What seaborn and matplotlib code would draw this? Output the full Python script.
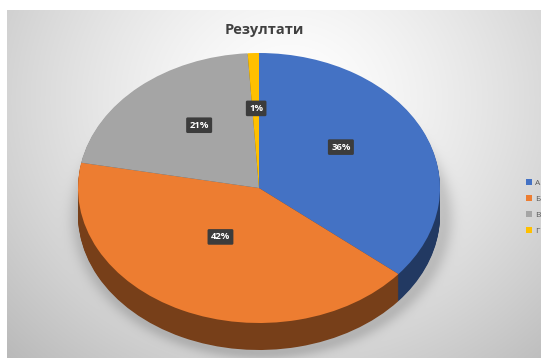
import numpy as np
import matplotlib
matplotlib.use("Agg")
import matplotlib.pyplot as plt
from matplotlib.patches import Patch
import seaborn as sns

# Survey results
categories = ["А", "Б", "В", "Г"]
shares = [36, 42, 21, 1]
value_labels = ["36%", "42%", "21%", "1%"]
title = "Резултати"

sns.set_theme(style="white")
plt.rcParams["font.family"] = ["Open Sans", "DejaVu Sans"]

top_colors = sns.color_palette(["#4472C4", "#ED7D31", "#A5A5A5", "#FFC000"])
side_colors = [tuple(c * 0.5 for c in col) for col in top_colors]

W, H = 541, 358
fig = plt.figure(figsize=(W / 100, H / 100), dpi=100)
fig.patch.set_facecolor("white")

# pie geometry in pixels
cx, cy, rx, ry, depth = 259, 188, 181, 135, 27

# chart area: soft radial gradient with a shadow under the pie
bg_ax = fig.add_axes([0, 0, 1, 1])
bg_ax.set_xlim(0, W)
bg_ax.set_ylim(H, 0)
bg_ax.axis("off")
x0, y0 = 7, 10
X, Y = np.meshgrid(np.arange(x0, W) + 0.5, np.arange(y0, H) + 0.5)
r = np.sqrt(((X - 290) / 320) ** 2 + ((Y - 100) / 290) ** 2)
val = 1.0 - 0.2 * np.clip(r, 0, 1.4) ** 1.4
d = np.sqrt(((X - cx - 3) / rx) ** 2 + ((Y - cy - depth - 2) / ry) ** 2)
outside = np.clip(d - 1.0, 0, None) * 160
shadow = 0.14 * np.exp(-(outside / 10.0) ** 2)
val = val - shadow
img = np.dstack([val, val, val])
bg_ax.imshow(img, extent=(x0, W, H, y0), interpolation="bilinear", aspect="auto")

# pie axes: unit circle stretched into the ellipse
ax = fig.add_axes([0, 0, 1, 1])
ax.patch.set_alpha(0)
n_layers = 30
for k in range(n_layers, 0, -1):
    ax.pie(shares, colors=side_colors, startangle=90, counterclock=False,
           center=(0, -depth / ry * k / n_layers), radius=1,
           wedgeprops=dict(linewidth=0))
ax.pie(shares, colors=top_colors, startangle=90, counterclock=False,
       center=(0, 0), radius=1, wedgeprops=dict(linewidth=0))
ax.set_aspect("auto")
ax.set_xlim(-cx / rx, (W - cx) / rx)
ax.set_ylim((cy - H) / ry, cy / ry)
ax.axis("off")

# value labels on dark rounded boxes
fractions = np.array(shares) / sum(shares)
mid = 90 - 360 * (np.cumsum(fractions) - fractions / 2)
for a, lab in zip(mid, value_labels):
    u = 0.5 * np.cos(np.radians(a))
    v = 0.5 * np.sin(np.radians(a)) + 0.09
    ax.text(u, v, lab, ha="center", va="center", color="white",
            fontsize=6.8, fontweight="bold",
            bbox=dict(boxstyle="round,pad=0.35,rounding_size=0.15",
                      fc="#3c3c3c", ec="none"))

fig.text(264 / W, 1 - 30 / H, title, ha="center", va="center",
         fontsize=10.5, fontweight="bold", color="#404040")

handles = [Patch(facecolor=c, edgecolor="none") for c in top_colors]
leg = fig.legend(handles, categories, loc="center left",
                 bbox_to_anchor=(522 / W, 1 - 207 / H), frameon=False,
                 fontsize=6, handlelength=0.65, handleheight=0.65,
                 handletextpad=0.4, labelspacing=1.0, borderpad=0)
for t in leg.get_texts():
    t.set_color("#595959")

fig.savefig("out.png", dpi=100, facecolor="white")
